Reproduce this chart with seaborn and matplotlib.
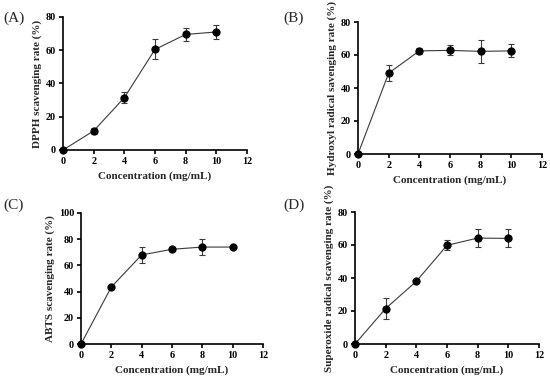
import matplotlib
matplotlib.use("Agg")
import matplotlib.pyplot as plt
import seaborn as sns
import numpy as np
import pandas as pd

sns.set_style("ticks")
plt.rcParams['font.family'] = ['Liberation Serif', 'DejaVu Serif']

conc = [0, 2, 4, 6, 8, 10]
dpph = [0, 11.5, 31.5, 60.5, 69.5, 71.0]
dpph_err = [0, 2.0, 3.5, 6.0, 4.0, 4.0]
hydroxyl = [0, 49.0, 62.5, 62.8, 62.2, 62.5]
hydroxyl_err = [0, 5.0, 2.0, 3.0, 7.0, 4.0]
abts = [0, 43.5, 68.0, 72.3, 74.0, 74.0]
abts_err = [0, 1.0, 6.0, 1.0, 6.0, 1.0]
superoxide = [0, 21.5, 38.0, 59.8, 64.2, 64.0]
superoxide_err = [0, 6.5, 1.0, 3.0, 5.5, 5.5]

panels = [
    ("(A)", "DPPH scavenging rate (%)", dpph, dpph_err, 80, [0, 20, 40, 60, 80]),
    ("(B)", "Hydroxyl radical savenging rate (%)", hydroxyl, hydroxyl_err, 80, [0, 20, 40, 60, 80]),
    ("(C)", "ABTS scavenging rate (%)", abts, abts_err, 100, [0, 20, 40, 60, 80, 100]),
    ("(D)", "Superoxide radical scavenging rate (%)", superoxide, superoxide_err, 80, [0, 20, 40, 60, 80]),
]

W, H = 550, 383
fig = plt.figure(figsize=(5.5, 3.83), dpi=100)
boxes = [(63, 17, 247, 150), (358, 22, 542, 154), (81, 213, 263, 344), (355, 212, 539, 344)]
letter_pos = [(3, 18), (283, 18), (3, 205), (283, 205)]

for (letter, ylabel, vals, errs, ymax, yt), (l, t, r, b), (lx, ly) in zip(panels, boxes, letter_pos):
    ax = fig.add_axes([l / W, 1 - b / H, (r - l) / W, (b - t) / H])
    df = pd.DataFrame({"c": conc, "v": vals})
    sns.lineplot(data=df, x="c", y="v", ax=ax, color="#3a3a3a", lw=0.8,
                 marker="o", markersize=5.2, markerfacecolor="black",
                 markeredgecolor="black", clip_on=False, zorder=3)
    ax.errorbar(conc, vals, yerr=errs, fmt="none", ecolor="#3a3a3a",
                elinewidth=0.8, capsize=2.5, capthick=0.8, zorder=2, clip_on=False)
    ax.set_xlim(0, 12)
    ax.set_ylim(0, ymax)
    ax.set_xticks([0, 2, 4, 6, 8, 10, 12])
    ax.set_yticks(yt)
    for s in ["top", "right"]:
        ax.spines[s].set_visible(False)
    for s in ["left", "bottom"]:
        ax.spines[s].set_linewidth(1.2)
        ax.spines[s].set_color("black")
    ax.tick_params(direction="out", length=3, width=1.2, labelsize=7.3, pad=2, colors="black")
    for lab in ax.get_xticklabels() + ax.get_yticklabels():
        lab.set_fontweight("bold")
    ax.set_xlabel("Concentration (mg/mL)", fontsize=8, fontweight="bold", labelpad=4)
    ax.set_ylabel(ylabel, fontsize=8, fontweight="bold", labelpad=3)
    fig.text(lx / W, 1 - ly / H, letter, fontsize=11, ha="left", va="center")

fig.savefig("out.png", dpi=100)
